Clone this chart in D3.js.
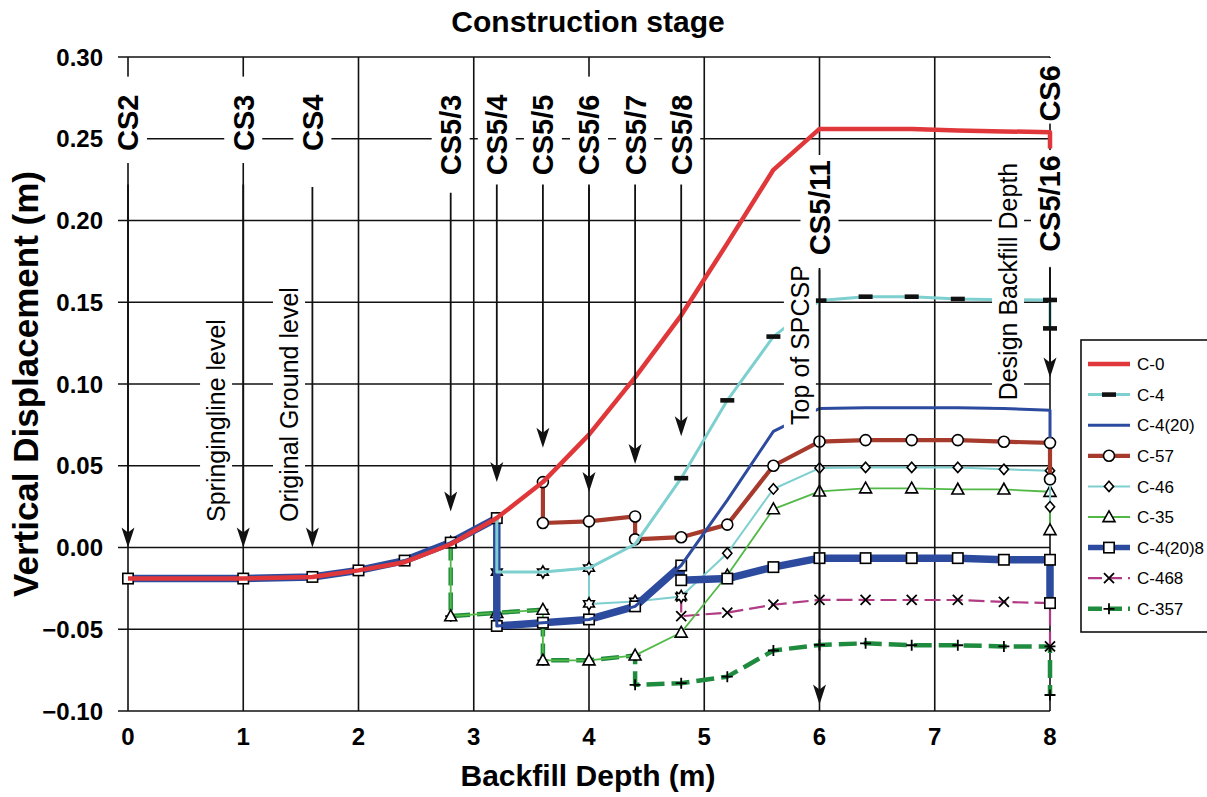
<!DOCTYPE html>
<html><head><meta charset="utf-8">
<script src="https://cdn.jsdelivr.net/npm/d3@7"></script>
<style>body{margin:0;background:#fff}svg{display:block}text{font-family:"Liberation Sans",Arial,sans-serif}</style>
</head><body><svg id="c" width="1207" height="797"></svg>
<script>
// ---------- DATA ----------
const depthTicks = [0,1,2,3,4,5,6,7,8];
const dispTicks = [-0.10,-0.05,0.00,0.05,0.10,0.15,0.20,0.25,0.30];
const seriesNames = ["C-0","C-4","C-4(20)","C-57","C-46","C-35","C-4(20)8","C-468","C-357"];

const c0X = [0,1,1.6,2,2.4,2.8,3.2,3.6,4,4.4,4.8,5.2,5.6,6,6.4,6.8,7.2,7.6,8,8];
const c0Y = [-0.019,-0.019,-0.018,-0.014,-0.009,0.002,0.018,0.040,0.069,0.104,0.142,0.186,0.231,0.256,0.256,0.256,0.255,0.2545,0.254,0.244];

const c4X = [3.2,3.2,3.6,4,4.4,4.8,5.2,5.6,6,6.4,6.8,7.2,7.6,8,8];
const c4Y = [0.018,-0.015,-0.015,-0.0126,0.002,0.0424,0.090,0.129,0.151,0.1534,0.1534,0.152,0.1515,0.1514,0.134];

const c420X = [0,1,1.6,2,2.4,2.8,3.2,3.2,3.6,4,4.4,4.8,5.2,5.6,6,6.4,6.8,7.2,7.6,8,8];
const c420Y = [-0.019,-0.019,-0.018,-0.014,-0.008,0.003,0.018,-0.048,-0.046,-0.044,-0.036,-0.011,0.029,0.071,0.085,0.0855,0.0855,0.0855,0.085,0.084,0.067];

const c57X = [3.6,3.6,4,4.4,4.4,4.8,5.2,5.6,6,6.4,6.8,7.2,7.6,8,8];
const c57Y = [0.040,0.015,0.016,0.019,0.005,0.0063,0.014,0.050,0.0648,0.0657,0.0657,0.0657,0.0647,0.064,0.0417];

const c46X = [3.2,3.2,3.6,4,4,4.4,4.8,5.2,5.6,6,6.4,6.8,7.2,7.6,8,8];
const c46Y = [0.018,-0.015,-0.015,-0.0126,-0.0345,-0.033,-0.030,-0.0035,0.0358,0.0486,0.049,0.049,0.049,0.0478,0.047,0.0249];

const c35X = [2.8,2.8,3.2,3.6,3.6,4,4.4,4.8,5.2,5.6,6,6.4,6.8,7.2,7.6,8,8];
const c35Y = [0.003,-0.042,-0.040,-0.038,-0.069,-0.069,-0.066,-0.052,-0.017,0.0235,0.0343,0.0362,0.0362,0.0355,0.0355,0.0341,0.0107];

const c4208X = [0,1,1.6,2,2.4,2.8,3.2,3.2,3.6,4,4.4,4.8,4.8,5.2,5.6,6,6.4,6.8,7.2,7.6,8,8];
const c4208Y = [-0.019,-0.019,-0.018,-0.014,-0.008,0.003,0.018,-0.048,-0.046,-0.044,-0.036,-0.011,-0.020,-0.019,-0.012,-0.0065,-0.0065,-0.0065,-0.0065,-0.0075,-0.0075,-0.034];

const c468X = [4.8,4.8,5.2,5.6,6,6.4,6.8,7.2,7.6,8,8];
const c468Y = [-0.030,-0.042,-0.0398,-0.035,-0.032,-0.0321,-0.0321,-0.0321,-0.0333,-0.034,-0.0605];

const c357X = [2.8,2.8,3.2,3.6,3.6,4,4.4,4.4,4.8,5.2,5.6,6,6.4,6.8,7.2,7.6,8,8];
const c357Y = [0.003,-0.042,-0.040,-0.038,-0.069,-0.069,-0.066,-0.084,-0.083,-0.079,-0.063,-0.0596,-0.0586,-0.0598,-0.0598,-0.0605,-0.0605,-0.0902];

// construction stage labels and arrows
const stageNames = ["CS2","CS3","CS4","CS5/3","CS5/4","CS5/5","CS5/6","CS5/7","CS5/8","CS5/11","CS6","CS5/16"];
const stageDepth = [0,1,1.6,2.8,3.2,3.6,4.0,4.4,4.8,6,8,8];
const stageLabelTop = [0.277,0.277,0.277,0.277,0.277,0.277,0.277,0.277,0.277,0.237,0.295,0.240];
const arrowDepth = [0,1,1.6,2.8,3.2,3.6,4.0,4.4,4.8,6,8];
const arrowFrom  = [0.222,0.222,0.2205,0.217,0.222,0.222,0.222,0.222,0.222,0.171,0.171];
const arrowTo    = [0.0,0.0,0.0,0.022,0.040,0.061,0.034,0.051,0.068,-0.096,0.104];

const noteText  = ["Springingline level","Original Ground level","Top of SPCSP","Design Backfill Depth"];
const noteDepth = [0.764,1.397,5.83,7.636];
const noteBase  = [0.0156,0.0156,0.075,0.090];

// ---------- STYLE ----------
const styles = {
 "C-0":      {x:c0X,   y:c0Y,   color:"#e0383a", w:4.5, dash:null, marker:null},
 "C-4":      {x:c4X,   y:c4Y,   color:"#7ecfcf", w:3,   dash:null, marker:"dash", mFrom:5},
 "C-4(20)":  {x:c420X, y:c420Y, color:"#2d4b9e", w:3,   dash:null, marker:null},
 "C-57":     {x:c57X,  y:c57Y,  color:"#a63a2c", w:4.2, dash:null, marker:"circle"},
 "C-46":     {x:c46X,  y:c46Y,  color:"#7ecfcf", w:2,   dash:null, marker:"diamond", alt:"star", altFrom:1, altTo:6},
 "C-35":     {x:c35X,  y:c35Y,  color:"#52b947", w:1.8, dash:null, marker:"triangle"},
 "C-4(20)8": {x:c4208X,y:c4208Y,color:"#2d4b9e", w:7.5, dash:null, marker:"square"},
 "C-468":    {x:c468X, y:c468Y, color:"#b03a83", w:2.2, dash:"16,6", marker:"x"},
 "C-357":    {x:c357X, y:c357Y, color:"#1f8b3e", w:4.5, dash:"18,7", marker:"plus"}
};
const drawOrder = ["C-357","C-468","C-35","C-46","C-4(20)8","C-57","C-4(20)","C-4","C-0"];
// label box padding (top, bottom) in px
const stagePadTop    = [18,18,18,18,18,18,18,18,18,5,18,5];
const stagePadBottom = [12,12,12,12,12,12,12,12,12,15,2,15];

const svg = d3.select("#c");
const x = d3.scaleLinear().domain([0,8]).range([128,1050]);
const y = d3.scaleLinear().domain([-0.10,0.30]).range([711,57]);

// grid + axes
const g = svg.append("g");
g.selectAll(".hg").data(dispTicks).join("line")
 .attr("x1",118).attr("x2",x(8)).attr("y1",d=>y(d)).attr("y2",d=>y(d))
 .attr("stroke","#111").attr("stroke-width",1.6);
g.selectAll(".vg").data(depthTicks).join("line")
 .attr("x1",d=>x(d)).attr("x2",d=>x(d)).attr("y1",y(0.30)).attr("y2",y(-0.10))
 .attr("stroke","#111").attr("stroke-width",1.6);
g.selectAll(".yl").data(dispTicks).join("text")
 .attr("x",103).attr("y",d=>y(d)).attr("dy","0.36em").attr("text-anchor","end")
 .attr("font-size",24).attr("font-weight","bold").text(d=>d3.format(".2f")(d));
g.selectAll(".xl").data(depthTicks).join("text")
 .attr("x",d=>x(d)).attr("y",745).attr("text-anchor","middle")
 .attr("font-size",24).attr("font-weight","bold").text(d=>d);

svg.append("text").attr("x",588).attr("y",32).attr("text-anchor","middle")
 .attr("font-size",30).attr("font-weight","bold").text("Construction stage");
svg.append("text").attr("x",588).attr("y",786).attr("text-anchor","middle")
 .attr("font-size",30).attr("font-weight","bold").text("Backfill Depth (m)");
svg.append("text").attr("transform","translate(38,384) rotate(-90)").attr("text-anchor","middle")
 .attr("font-size",35).attr("font-weight","bold").text("Vertical Displacement (m)");

// markers
function starPath(R){
  const r = R/Math.sqrt(3); let p = [];
  for(let k=0;k<12;k++){ const a = (-90 + k*30)*Math.PI/180, rr = k%2 ? r : R; p.push([rr*Math.cos(a), rr*Math.sin(a)]); }
  return "M"+p.map(q=>q[0].toFixed(2)+","+q[1].toFixed(2)).join("L")+"Z";
}
function marker(sel, type, cx, cy){
  const s = sel.append("g").attr("transform",`translate(${cx},${cy})`);
  const st = {fill:"#fff", stroke:"#000", "stroke-width":1.6};
  const ap = (e)=>{for(const k in st) e.attr(k,st[k]); return e;};
  if(type==="circle") ap(s.append("circle").attr("r",5.5));
  else if(type==="square") ap(s.append("rect").attr("x",-5.2).attr("y",-5.2).attr("width",10.4).attr("height",10.4));
  else if(type==="triangle") ap(s.append("path").attr("d","M0,-6.2L6,4.6L-6,4.6Z"));
  else if(type==="diamond") ap(s.append("path").attr("d","M0,-5.2L4.6,0L0,5.2L-4.6,0Z"));
  else if(type==="star") ap(s.append("path").attr("d",starPath(6.2)));
  else if(type==="x") s.append("path").attr("d","M-5,-5L5,5M-5,5L5,-5").attr("stroke","#000").attr("stroke-width",1.8);
  else if(type==="plus") s.append("path").attr("d","M-5.5,0H5.5M0,-5.5V5.5").attr("stroke","#000").attr("stroke-width",1.8);
  else if(type==="dash") s.append("rect").attr("x",-7).attr("y",-2.3).attr("width",14).attr("height",4.6).attr("fill","#111");
}

const line = d3.line().x(d=>x(d[0])).y(d=>y(d[1]));
const plot = svg.append("g");
drawOrder.forEach(name=>{
  const s = styles[name];
  const pts = s.x.map((v,i)=>[v,s.y[i]]);
  const gg = plot.append("g");
  gg.append("path").attr("d",line(pts)).attr("fill","none").attr("stroke",s.color)
    .attr("stroke-width",s.w).attr("stroke-linejoin","round")
    .attr("stroke-dasharray",s.dash);
  if(s.marker){
    pts.forEach((p,i)=>{
      if(i < (s.mFrom||0)) return;
      const t = (s.alt && i>=s.altFrom && i<=s.altTo) ? s.alt : s.marker;
      marker(gg,t,x(p[0]),y(p[1]));
    });
  }
});

// annotation notes (white boxes)
const notes = svg.append("g");
noteText.forEach((t,i)=>{
  const cx = x(noteDepth[i]), by = y(noteBase[i]);
  const tx = notes.append("text").attr("transform",`translate(${cx},${by}) rotate(-90)`)
    .attr("dy","0.36em").attr("font-size",25).text(t);
  const len = tx.node().getComputedTextLength();
  notes.insert("rect","text").attr("x",cx-16).attr("y",by-len-8).attr("width",32).attr("height",len+14).attr("fill","#fff");
});

// stage labels
const stg = svg.append("g");
stageNames.forEach((t,i)=>{
  const cx = x(stageDepth[i]), ty = y(stageLabelTop[i]);
  const tx = stg.append("text").attr("transform",`translate(${cx},${ty}) rotate(-90)`)
    .attr("text-anchor","end").attr("dy","0.36em").attr("font-size",29).attr("font-weight","bold").text(t);
  const len = tx.node().getComputedTextLength();
  const top = Math.max(y(0.30)+1, ty-stagePadTop[i]);
  stg.insert("rect","text").attr("x",cx-19).attr("y",top).attr("width",38)
    .attr("height",ty+len+stagePadBottom[i]-top).attr("fill","#fff");
});

// arrows
const arr = svg.append("g");
arrowDepth.forEach((d,i)=>{
  const ax = x(d), y0 = y(arrowFrom[i]), y1 = y(arrowTo[i]);
  arr.append("line").attr("x1",ax).attr("x2",ax).attr("y1",y0).attr("y2",y1-12)
    .attr("stroke","#111").attr("stroke-width",1.8);
  arr.append("path").attr("d",`M${ax},${y1}L${ax-6.5},${y1-20}L${ax},${y1-15}L${ax+6.5},${y1-20}Z`).attr("fill","#111");
});

// legend
const lg = svg.append("g");
lg.append("rect").attr("x",1081).attr("y",340).attr("width",140).attr("height",292)
  .attr("fill","#fff").attr("stroke","#111").attr("stroke-width",1.6);
seriesNames.forEach((n,i)=>{
  const s = styles[n], ly = 364 + i*30.6;
  lg.append("line").attr("x1",1088).attr("x2",1130).attr("y1",ly).attr("y2",ly)
    .attr("stroke",s.color).attr("stroke-width",Math.min(s.w,5.5)).attr("stroke-dasharray",s.dash?"14,6":null);
  if(s.marker) marker(lg,s.marker,1109,ly);
  lg.append("text").attr("x",1137).attr("y",ly).attr("dy","0.36em").attr("font-size",17).text(n);
});
</script></body></html>
